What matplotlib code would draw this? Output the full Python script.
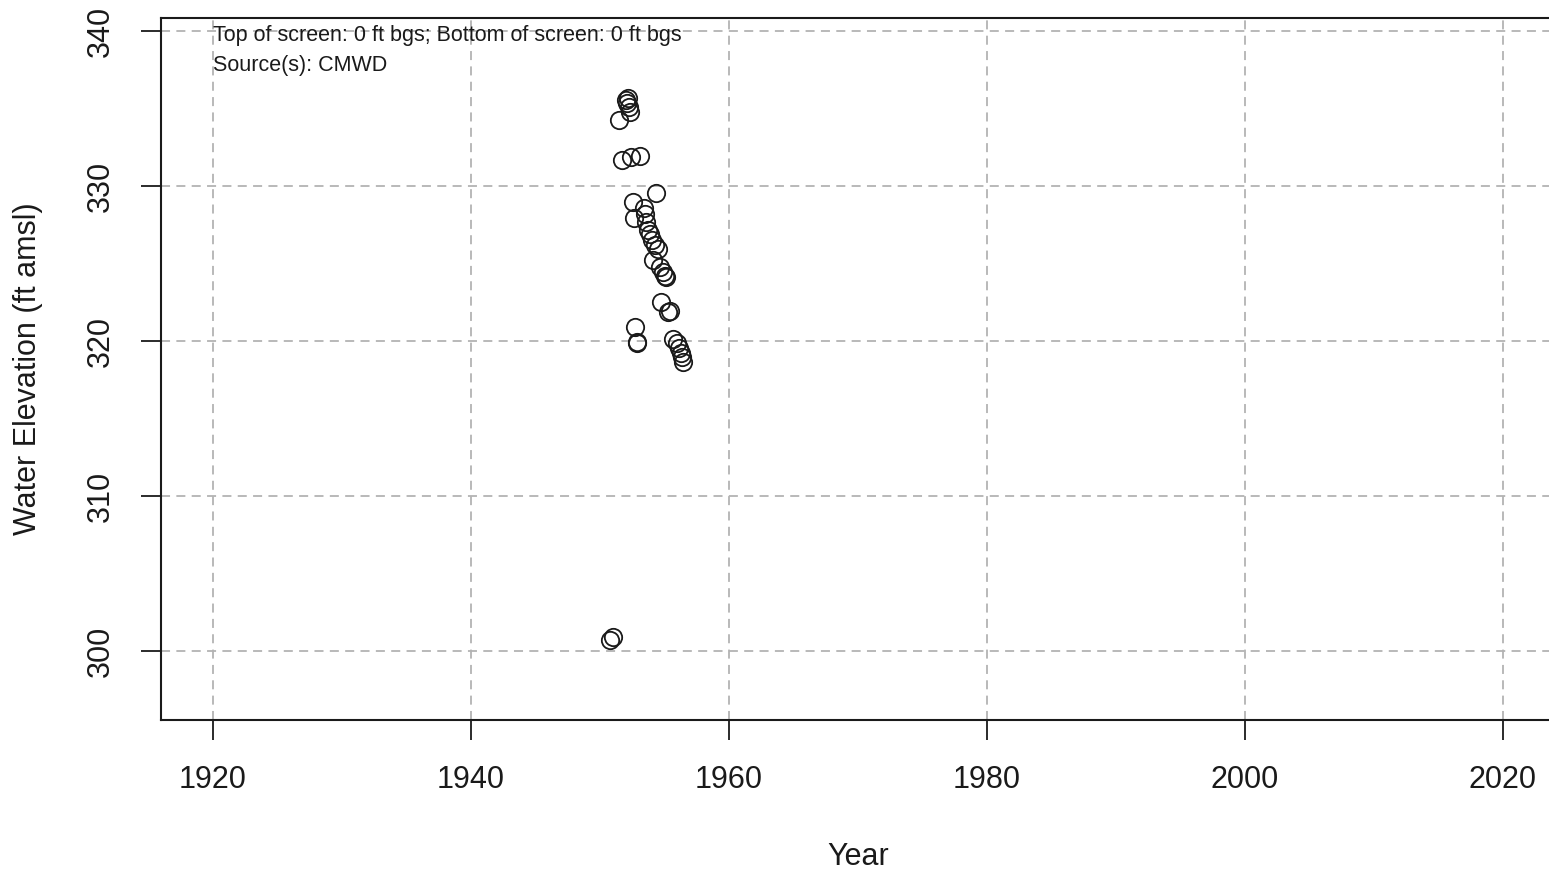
import matplotlib.pyplot as plt

plt.rcParams['font.family'] = ['Liberation Sans', 'DejaVu Sans']

# measurement dates (decimal year) and water elevation (ft amsl)
year = [1950.78, 1951.0, 1951.47, 1951.7, 1952.0, 1952.2, 1952.1, 1952.25, 1952.35,
        1952.4, 1953.1, 1952.56, 1952.64, 1954.34, 1953.4, 1953.5, 1953.6, 1953.7,
        1953.9, 1954.0, 1954.3, 1954.5, 1954.1, 1954.65, 1954.85, 1955.05, 1955.1,
        1954.7, 1955.25, 1955.4, 1952.7, 1952.85, 1952.9, 1955.7, 1956.0, 1956.1,
        1956.25, 1956.35, 1956.4]
elev = [300.71, 300.9, 334.26, 331.68, 335.55, 335.68, 335.35, 335.1, 334.75,
        331.87, 331.94, 328.97, 327.94, 329.55, 328.58, 328.2, 327.68, 327.16,
        326.9, 326.5, 326.2, 325.94, 325.2, 324.8, 324.45, 324.2, 324.1,
        322.5, 321.9, 321.94, 320.9, 319.94, 319.87, 320.13, 319.87, 319.55,
        319.23, 318.97, 318.65]

xticks = [1920, 1940, 1960, 1980, 2000, 2020]
yticks = [300, 310, 320, 330, 340]

fig = plt.figure(figsize=(15.49, 8.74), dpi=100)
ax = fig.add_axes([0.1039, 0.1762, 0.8997, 0.8032])

ax.grid(True, color='#b3b3b3', linestyle=(0, (5, 3.5)), linewidth=1.3)
ax.set_axisbelow(True)
ax.plot(year, elev, 'o', mfc='none', mec='#1a1a1a', ms=12.5, mew=1.3)

ax.set_xlim(1915.97, 2024)
ax.set_ylim(295.55, 340.84)
ax.set_xticks(xticks)
ax.set_yticks(yticks)
ax.tick_params(axis='both', labelsize=22, length=14.4, width=1.3, color='#1a1a1a',
               labelcolor='#1a1a1a')
ax.tick_params(axis='x', pad=18)
ax.tick_params(axis='y', pad=18)
for lab in ax.get_yticklabels():
    lab.set_rotation(90)
    lab.set_va('center')
for s in ax.spines.values():
    s.set_linewidth(1.5)
    s.set_color('#1a1a1a')

ax.set_xlabel('Year', fontsize=22, va='center', color='#1a1a1a')
ax.xaxis.set_label_coords(0.5, -0.195)
ax.set_ylabel('Water Elevation (ft amsl)', fontsize=22, va='center', color='#1a1a1a')
ax.yaxis.set_label_coords(-0.0954, 0.5)

ax.text(1920, 339.68, 'Top of screen: 0 ft bgs; Bottom of screen: 0 ft bgs',
        fontsize=15.5, va='center', ha='left', color='#1a1a1a')
ax.text(1920, 337.8, 'Source(s): CMWD', fontsize=15.5, va='center', ha='left',
        color='#1a1a1a')

fig.savefig('out.png', dpi=100)
